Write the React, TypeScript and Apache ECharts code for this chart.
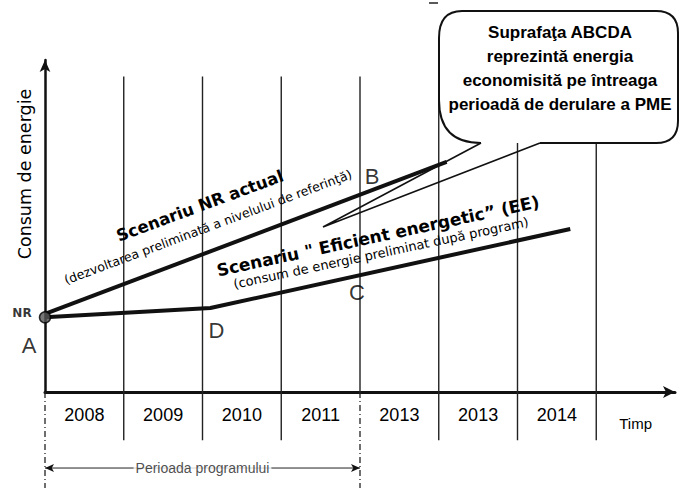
import React, { useEffect, useRef } from 'react';
import * as echarts from 'echarts';

// ---- data ----
const yearLabels = ['2008', '2009', '2010', '2011', '2013', '2013', '2014', 'Timp'];
const gridlineX = [1, 2, 3, 4, 5, 6, 7];
const gridlineTop = 9.5;
const gridlineBottom = -1.45;
const programStart = 0;
const programEnd = 4;
const programArrowY = -2.29;
const dashBottom = -2.95;
const nrScenario = [[0, 2.35], [5.1, 6.93]];
const eeScenario = [[0, 2.25], [2.1, 2.53], [6.67, 4.91]];
const pointNames = ['NR', 'A', 'B', 'C', 'D'];
const pointValues = [[0, 2.35], [0, 2.25], [4, 5.94], [4, 3.52], [2.1, 2.53]];
const calloutLines = [
  'Suprafaţa ABCDA',
  'reprezintă energia',
  'economisită pe întreaga',
  'perioadă de derulare a PME',
];
const yTitle = 'Consum de energie';
const nrTitle = 'Scenariu NR actual';
const nrSub = '(dezvoltarea preliminată a nivelului de referinţă)';
const eeTitle = 'Scenariu " Eficient energetic\u201D (EE)';
const eeSub = '(consum de energie preliminat după program)';
const programLabel = 'Perioada programului';

const calloutBodyPath =
  'M540 143 L656 143 Q678 143 678 121 L678 33 Q678 11 656 11 L462 11 Q439 11 439 38 L439 100 Q439 143 481 143';
echarts.graphic.registerShape('calloutBody', echarts.graphic.extendPath(calloutBodyPath, {}));

export default function App() {
  const ref = useRef<HTMLDivElement>(null);
  useEffect(() => {
    const chart = echarts.init(ref.current!, null, { renderer: 'svg' });
    const ink = '#111';
    const sans = '"Liberation Sans", Arial, sans-serif';
    const verd = '"DejaVu Sans", Verdana, sans-serif';
    const labelOffsets: Record<string, number[]> = {
      NR: [-23, -1],
      A: [-16, 28],
      B: [12, -18],
      C: [-3, 17],
      D: [6, 22],
    };

    const series: any[] = [];
    gridlineX.forEach((x) => {
      series.push({
        type: 'line',
        data: [[x, x === programEnd ? 0 : gridlineBottom], [x, gridlineTop]],
        symbol: 'none',
        clip: false,
        silent: true,
        z: 1,
        lineStyle: { color: '#222', width: 1.4 },
      });
    });
    [programStart, programEnd].forEach((x) => {
      series.push({
        type: 'line',
        data: [[x, 0], [x, dashBottom]],
        symbol: 'none',
        clip: false,
        silent: true,
        z: 1,
        lineStyle: { color: '#222', width: 1.3, type: [6, 3, 1, 3] },
      });
    });
    series.push({
      type: 'line',
      data: nrScenario,
      symbol: 'none',
      clip: false,
      silent: true,
      z: 3,
      lineStyle: { color: ink, width: 4 },
    });
    series.push({
      type: 'line',
      data: eeScenario,
      symbol: 'none',
      clip: false,
      silent: true,
      z: 3,
      lineStyle: { color: ink, width: 4 },
    });
    series.push({
      type: 'line',
      data: [[programStart, programArrowY], [programEnd, programArrowY]],
      symbol: 'arrow',
      symbolSize: [6, 9],
      symbolRotate: (_v: any, p: any) => (p.dataIndex === 0 ? 90 : -90),
      showSymbol: true,
      clip: false,
      silent: true,
      z: 2,
      itemStyle: { color: ink },
      lineStyle: { color: '#222', width: 1 },
    });
    series.push({
      type: 'scatter',
      clip: false,
      silent: true,
      z: 4,
      symbolSize: 0,
      data: [
        {
          name: programLabel,
          value: [(programStart + programEnd) / 2, programArrowY],
          label: {
            show: true,
            position: 'inside',
            formatter: '{b}',
            color: '#222',
            fontSize: 14,
            fontFamily: sans,
            backgroundColor: '#fff',
            padding: [1, 2],
          },
        },
      ],
    });
    series.push({
      type: 'scatter',
      clip: false,
      silent: true,
      z: 5,
      itemStyle: { color: '#555', borderColor: '#000', borderWidth: 1.5 },
      label: { show: true, position: 'inside', formatter: '{b}', color: '#000' },
      data: pointNames.map((n, i) => ({
        name: n,
        value: pointValues[i],
        symbolSize: n === 'A' ? 11 : 0,
        label: {
          offset: labelOffsets[n],
          fontSize: n === 'NR' ? 12 : 22,
          fontWeight: n === 'NR' ? 'bold' : 'normal',
          fontFamily: n === 'NR' ? verd : sans,
        },
      })),
    });

    const rotText = (text: string, x: number, y: number, deg: number, font: string) => ({
      type: 'text',
      x,
      y,
      rotation: (deg * Math.PI) / 180,
      z: 6,
      silent: true,
      style: {
        text,
        font,
        fill: '#000',
        align: 'center',
        verticalAlign: 'middle',
        textAlign: 'center',
        textVerticalAlign: 'middle',
      },
    });

    chart.setOption({
      animation: false,
      backgroundColor: '#fff',
      grid: { left: 45, right: 5, top: 60, bottom: 96, containLabel: false, outerBoundsMode: 'none' },
      xAxis: {
        type: 'value',
        min: 0,
        max: 8,
        interval: 0.5,
        axisLine: {
          show: true,
          onZero: false,
          symbol: ['none', 'arrow'],
          symbolSize: [9, 12],
          lineStyle: { color: ink, width: 3 },
        },
        axisTick: { show: false },
        splitLine: { show: false },
        axisLabel: {
          margin: 14,
          color: '#000',
          fontSize: 18,
          fontFamily: sans,
          showMinLabel: true,
          showMaxLabel: true,
          formatter: (v: number) => {
            const i = v - 0.5;
            if (!Number.isInteger(i) || yearLabels[i] === undefined) return '';
            return i === yearLabels.length - 1 ? '{t|' + yearLabels[i] + '}' : yearLabels[i];
          },
          rich: { t: { fontSize: 15, fontFamily: sans, color: '#000', padding: [10, 0, 0, 0] } },
        },
      },
      yAxis: {
        type: 'value',
        min: 0,
        max: 10,
        axisLine: {
          show: true,
          onZero: false,
          symbol: ['none', 'arrow'],
          symbolSize: [8, 12],
          lineStyle: { color: ink, width: 2.5 },
        },
        axisTick: { show: false },
        axisLabel: { show: false },
        splitLine: { show: false },
      },
      series,
      graphic: [
        rotText(yTitle, 25, 174, 90, '17.5px "DejaVu Sans", Verdana, sans-serif'),
        rotText(nrTitle, 200, 206, 20.3, 'bold 16.5px "DejaVu Sans", Verdana, sans-serif'),
        rotText(nrSub, 208, 227, 20.4, '12.6px "DejaVu Sans", Verdana, sans-serif'),
        rotText(eeTitle, 378, 236, 12.1, 'bold 17px "DejaVu Sans", Verdana, sans-serif'),
        rotText(eeSub, 381, 253, 12, '13px "DejaVu Sans", Verdana, sans-serif'),
        {
          type: 'calloutBody',
          x: 0,
          y: 0,
          z: 8,
          silent: true,
          style: { fill: '#fff', stroke: '#111', lineWidth: 2 },
        },
        {
          type: 'polyline',
          z: 8,
          silent: true,
          shape: { points: [[481, 143], [323, 227], [540, 143]] },
          style: { fill: 'none', stroke: '#111', lineWidth: 1.6 },
        },
        {
          type: 'text',
          x: 560,
          y: 68,
          z: 9,
          silent: true,
          style: {
            text: calloutLines.join('\n'),
            font: 'bold 17px "Liberation Sans", Arial, sans-serif',
            lineHeight: 24,
            fill: '#000',
            align: 'center',
            verticalAlign: 'middle',
            textAlign: 'center',
            textVerticalAlign: 'middle',
          },
        },
        {
          type: 'line',
          z: 9,
          silent: true,
          shape: { x1: 429, y1: 3, x2: 438, y2: 3 },
          style: { stroke: '#222', lineWidth: 1.5 },
        },
      ],
    });
    return () => chart.dispose();
  }, []);
  return (
    <div
      ref={ref}
      style={{ position: 'absolute', left: 0, top: 0, width: 680, height: 488, background: '#fff' }}
    />
  );
}
